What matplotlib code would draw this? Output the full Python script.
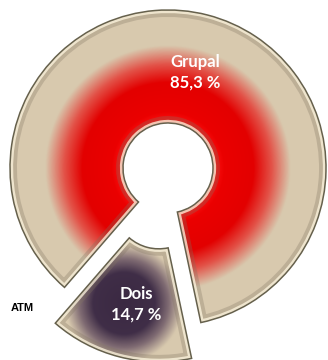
import numpy as np
import matplotlib
matplotlib.use("Agg")
import matplotlib.pyplot as plt
from matplotlib.patches import PathPatch
from matplotlib.colors import LinearSegmentedColormap

# Data
labels = ["Grupal", "Dois"]
shares = [85.3, 14.7]
series_name = "ATM"

W, H = 328, 360
fig = plt.figure(figsize=(W / 100, H / 100), dpi=100)
ax = fig.add_axes([0, 0, 1, 1])

cx, cy = 168, 192
R_out, R_in = 158, 45
explode = [0, 37]  # offset in data units

wedges, _ = ax.pie(
    shares, radius=R_out, center=(cx, cy), startangle=282,
    counterclock=True, explode=explode, frame=True,
    wedgeprops=dict(width=R_out - R_in, linewidth=0, facecolor="none"),
)
ax.set_xlim(0, W)
ax.set_ylim(0, H)
ax.set_aspect("equal")
ax.axis("off")

beige = (216 / 255, 201 / 255, 174 / 255)

# Radial colour ramps for the two wedges
red_cmap = LinearSegmentedColormap.from_list(
    "red_ring",
    [(0.0, (1.0, 0.08, 0.08)), (0.10, (0.92, 0.0, 0.0)),
     (0.36, (0.89, 0.0, 0.0)), (0.52, (0.89, 0.32, 0.28)),
     (0.69, beige), (1.0, beige)])
dark_cmap = LinearSegmentedColormap.from_list(
    "dark_spot",
    [(0.0, (0.23, 0.16, 0.26)), (0.50, (0.25, 0.18, 0.28)),
     (0.72, (0.50, 0.42, 0.45)), (0.95, beige), (1.0, beige)])

xs = np.linspace(0, W, W * 2)
ys = np.linspace(0, H, H * 2)
X, Y = np.meshgrid(xs, ys)

# Grupal: gradient around the ring centre
wc = wedges[0].center
r = np.hypot(X - wc[0], Y - wc[1])
t = np.clip((r - R_in) / (R_out - R_in), 0, 1)
img = ax.imshow(red_cmap(t), extent=(0, W, 0, H), origin="lower",
                interpolation="bilinear", zorder=1)
img.set_clip_path(wedges[0])

# Dois: dark spot in the middle of the exploded wedge
wc2 = wedges[1].center
mid = np.deg2rad((wedges[1].theta1 + wedges[1].theta2) / 2)
spot = (wc2[0] + 107 * np.cos(mid) - 8, wc2[1] + 107 * np.sin(mid) + 4)
r2 = np.hypot(X - spot[0], Y - spot[1])
t2 = np.clip(r2 / 62, 0, 1)
img2 = ax.imshow(dark_cmap(t2), extent=(0, W, 0, H), origin="lower",
                 interpolation="bilinear", zorder=1)
img2.set_clip_path(wedges[1])

# Bevelled rims: shaded band, light inner edge and a dark outline
for w in wedges:
    band = PathPatch(w.get_path(), transform=w.get_transform(),
                     facecolor="none", edgecolor=(0.50, 0.45, 0.38),
                     linewidth=10, alpha=0.30, zorder=1.5)
    ax.add_patch(band)
    band.set_clip_path(w)
    hl = PathPatch(w.get_path(), transform=w.get_transform(),
                   facecolor="none", edgecolor=(1.0, 0.97, 0.88),
                   linewidth=4.5, alpha=0.75, zorder=2)
    ax.add_patch(hl)
    hl.set_clip_path(w)
    ol = PathPatch(w.get_path(), transform=w.get_transform(),
                   facecolor="none", edgecolor=(0.40, 0.38, 0.30),
                   linewidth=1.1, zorder=3)
    ax.add_patch(ol)

def pct(v):
    return f"{v:.1f}".replace(".", ",") + " %"

font = ["Lato", "DejaVu Sans"]
ax.text(195, H - 72, f"{labels[0]}\n{pct(shares[0])}", color="white",
        fontsize=12, fontweight="bold", family=font, ha="center",
        va="center", linespacing=1.35, zorder=5)
ax.text(136, H - 304, f"{labels[1]}\n{pct(shares[1])}", color="white",
        fontsize=12, fontweight="bold", family=font, ha="center",
        va="center", linespacing=1.35, zorder=5)
ax.text(22, H - 308, series_name, color="black", fontsize=8,
        fontweight="bold", family=["Liberation Sans", "DejaVu Sans"],
        ha="center", va="center", zorder=5)

fig.savefig("out.png", dpi=100)
